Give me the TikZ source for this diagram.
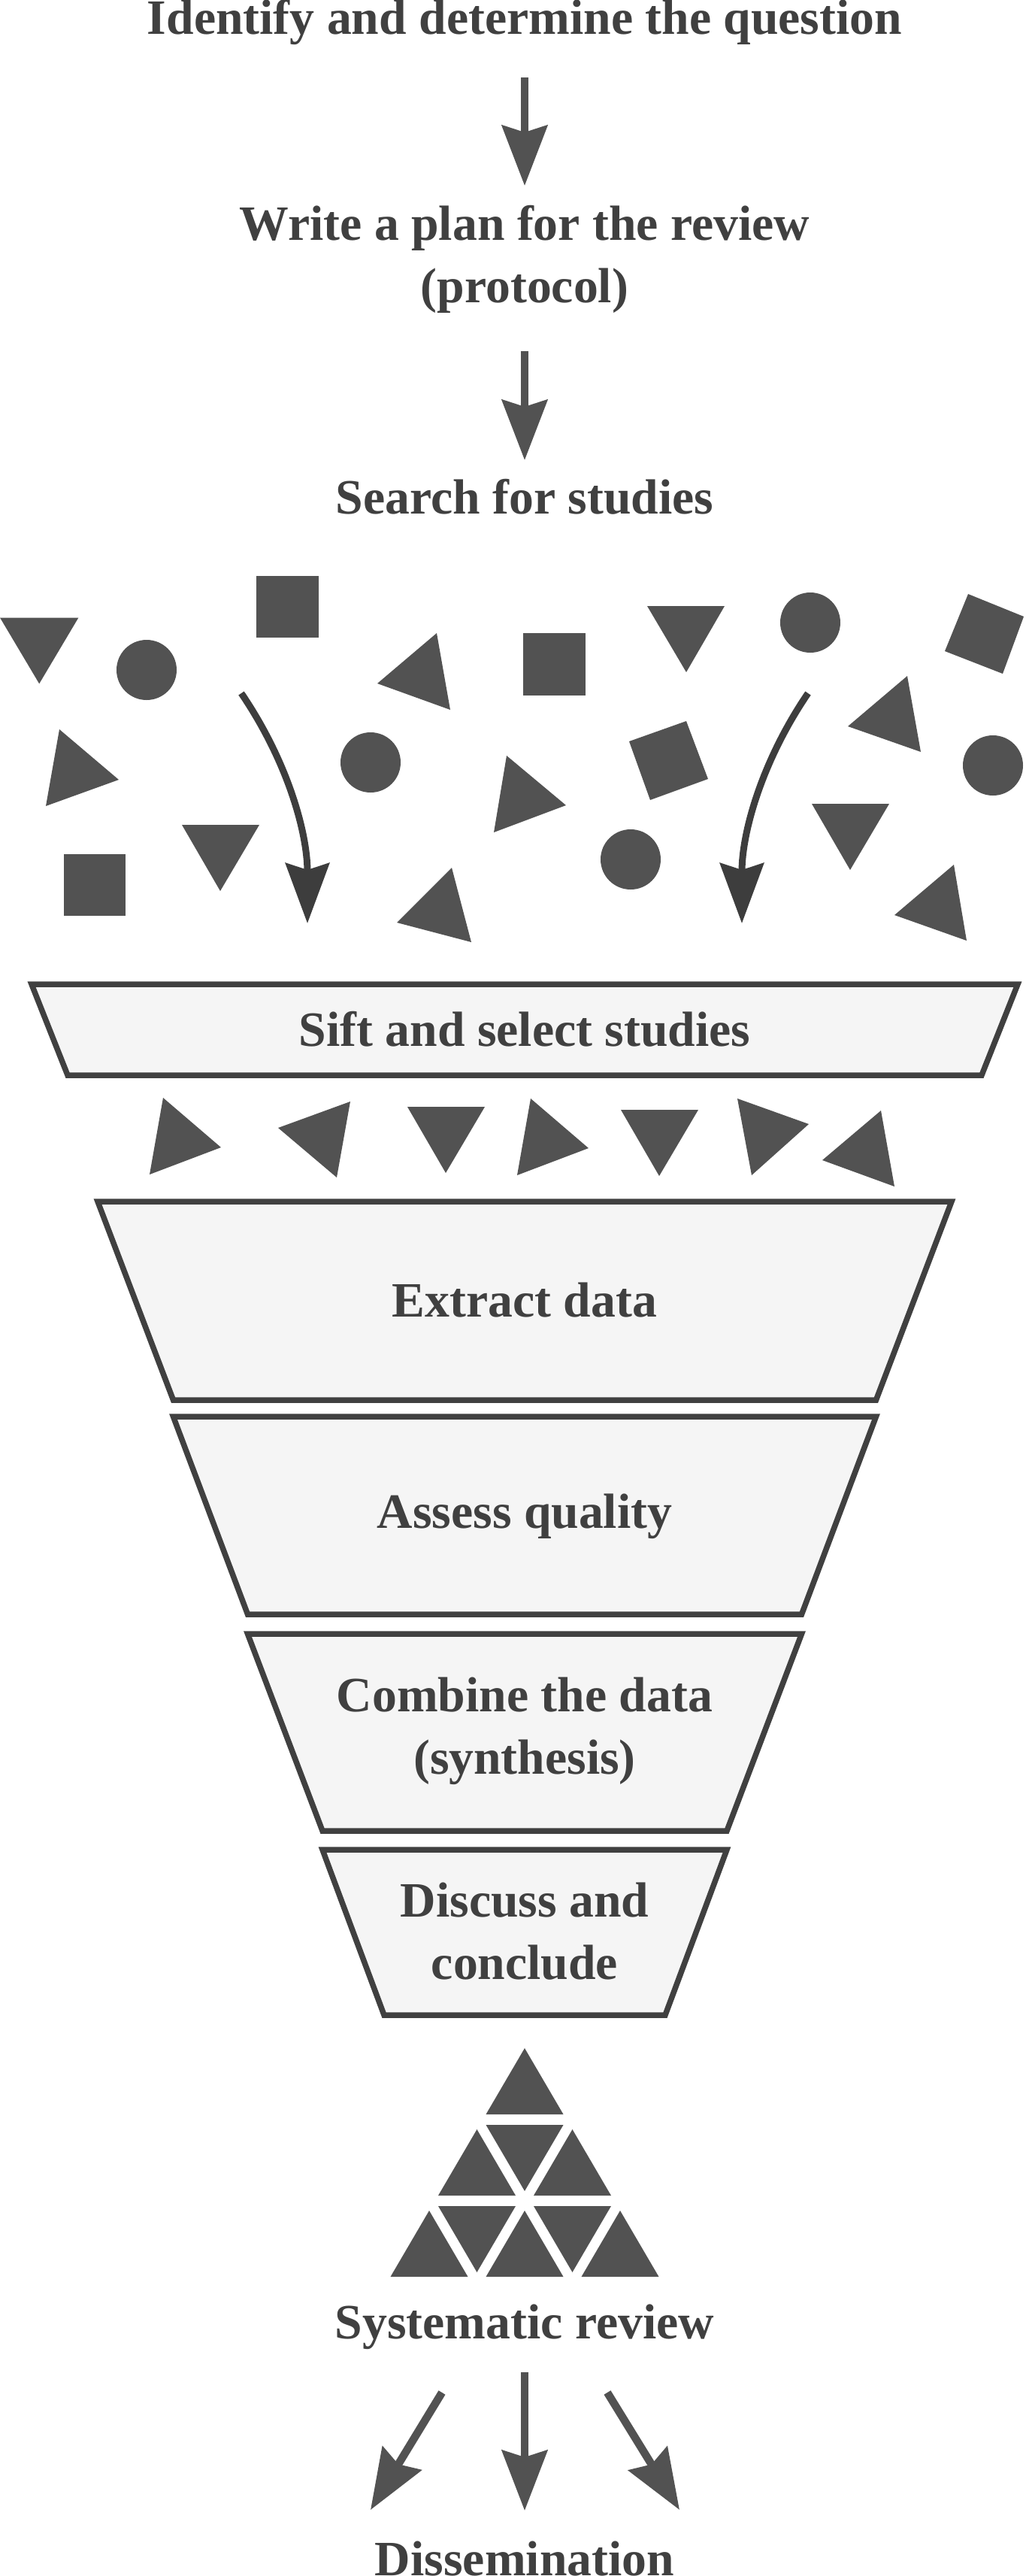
\documentclass[tikz,border=0pt]{standalone}
\usepackage{fontspec}
\setmainfont{Liberation Serif}
\usepackage{tikz}
\usetikzlibrary{arrows.meta}

\definecolor{inkgray}{HTML}{404040}
\definecolor{bitgray}{HTML}{525252}
\definecolor{curvegray}{HTML}{3D3D3D}
\definecolor{stagefill}{HTML}{F5F5F5}

\begin{document}
\begin{tikzpicture}[
	stagetext/.style={inner sep=0pt, text=inkgray, align=center,
		font=\fontsize{18.7pt}{23.6pt}\selectfont\bfseries},
	flowarrow/.style={draw=bitgray, line width=1.05mm,
		-{Stealth[length=8mm, width=6mm, inset=0.9mm]}},
	driftarrow/.style={draw=curvegray, line width=0.9mm,
		-{Stealth[length=8mm, width=5.8mm, inset=0.9mm]}},
	bit/.style={fill=bitgray},
	stage/.style={draw=inkgray, fill=stagefill, line width=0.75mm}
]
	\useasboundingbox (0,0) rectangle (13.64,-34.26);

	% steps before the search (base = last line)
	\node[stagetext, anchor=base] (identify) at (6.98,-0.45) {Identify and determine the question};
	\node[stagetext, anchor=base] (plan) at (6.98,-4.02) {Write a plan for the review\\(protocol)};
	\node[stagetext, anchor=base] (search) at (6.98,-6.83) {Search for studies};

	\draw[flowarrow] ([yshift=-5.8mm]identify.base) -- ([yshift=15.5mm]plan.base);
	\draw[flowarrow] ([yshift=-6.5mm]plan.base) -- ([yshift=7.1mm]search.base);

	% scattered studies
	\fill[bit] (0,-8.215) -- (1.044,-8.215) -- (0.522,-9.093) -- cycle;
	\fill[bit] (1.95,-8.91) circle (0.40);
	\fill[bit] (3.41,-7.66) rectangle (4.24,-8.48);
	\fill[bit] (5.81,-8.42) -- (5.02,-9.09) -- (5.99,-9.44) -- cycle;
	\fill[bit] (6.96,-8.42) rectangle (7.79,-9.25);
	\fill[bit] (8.61,-8.06) -- (9.64,-8.06) -- (9.13,-8.94) -- cycle;
	\fill[bit] (10.78,-8.28) circle (0.40);
	\fill[bit] (12.88,-7.90) -- (13.62,-8.20) -- (13.34,-8.96) -- (12.57,-8.66) -- cycle;
	\fill[bit] (12.07,-8.99) -- (11.28,-9.66) -- (12.25,-10.00) -- cycle;
	\fill[bit] (13.21,-10.18) circle (0.40);
	\fill[bit] (0.79,-9.70) -- (1.58,-10.37) -- (0.61,-10.72) -- cycle;
	\fill[bit] (4.93,-10.14) circle (0.40);
	\fill[bit] (6.74,-10.05) -- (7.53,-10.71) -- (6.57,-11.07) -- cycle;
	\fill[bit] (9.13,-9.59) -- (9.42,-10.36) -- (8.65,-10.64) -- (8.37,-9.86) -- cycle;
	\fill[bit] (0.85,-11.36) rectangle (1.67,-12.18);
	\fill[bit] (2.42,-10.97) -- (3.45,-10.97) -- (2.93,-11.85) -- cycle;
	\fill[bit] (8.39,-11.43) circle (0.40);
	\fill[bit] (10.80,-10.69) -- (11.83,-10.69) -- (11.31,-11.57) -- cycle;
	\fill[bit] (6.01,-11.54) -- (5.28,-12.27) -- (6.27,-12.53) -- cycle;
	\fill[bit] (12.69,-11.50) -- (11.90,-12.17) -- (12.86,-12.51) -- cycle;

	% arrows into the funnel
	\coordinate (dropL) at (3.21,-9.22);
	\coordinate (landL) at (4.09,-12.28);
	\coordinate (dropR) at (10.75,-9.22);
	\coordinate (landR) at (9.87,-12.28);
	\draw[driftarrow] (dropL) .. controls (3.83,-10.13) and (4.09,-11.08) .. (landL);
	\draw[driftarrow] (dropR) .. controls (10.13,-10.13) and (9.87,-11.08) .. (landR);

	% funnel
	\draw[stage] (0.42,-13.09) -- (13.54,-13.09) -- (13.06,-14.30) -- (0.90,-14.30) -- cycle;
	\node[stagetext, anchor=base] (sift) at (6.98,-13.91) {Sift and select studies};

	% selected studies
	\fill[bit] (2.17,-14.60) -- (2.94,-15.26) -- (1.99,-15.62) -- cycle;
	\fill[bit] (4.66,-14.65) -- (3.70,-15.00) -- (4.48,-15.66) -- cycle;
	\fill[bit] (5.42,-14.72) -- (6.45,-14.72) -- (5.93,-15.60) -- cycle;
	\fill[bit] (7.06,-14.61) -- (7.83,-15.27) -- (6.88,-15.63) -- cycle;
	\fill[bit] (8.26,-14.76) -- (9.29,-14.76) -- (8.77,-15.64) -- cycle;
	\fill[bit] (9.81,-14.61) -- (10.76,-14.95) -- (10.00,-15.63) -- cycle;
	\fill[bit] (11.72,-14.77) -- (10.94,-15.43) -- (11.90,-15.78) -- cycle;

	\draw[stage] (1.30,-15.98) -- (12.66,-15.98) -- (11.655,-18.62) -- (2.305,-18.62) -- cycle;
	\node[stagetext, anchor=base] (extract) at (6.98,-17.51) {Extract data};

	\draw[stage] (2.305,-18.84) -- (11.655,-18.84) -- (10.665,-21.47) -- (3.295,-21.47) -- cycle;
	\node[stagetext, anchor=base] (assess) at (6.98,-20.32) {Assess quality};

	\draw[stage] (3.295,-21.73) -- (10.665,-21.73) -- (9.67,-24.35) -- (4.29,-24.35) -- cycle;
	\node[stagetext, anchor=base] (combine) at (6.98,-23.59) {Combine the data\\(synthesis)};

	\draw[stage] (4.29,-24.60) -- (9.67,-24.60) -- (8.85,-26.80) -- (5.11,-26.80) -- cycle;
	\node[stagetext, anchor=base] (discuss) at (6.98,-26.32) {Discuss and\\conclude};

	% pyramid
	\foreach \r in {0,1,2} {
		\foreach \k in {0,...,\r} {
			\fill[bit] ({6.98+(2*\k-\r)*0.635},{-27.24-\r*1.08}) -- ++(0.515,-0.88) -- ++(-1.03,0) -- cycle;
		}
	}
	\foreach \r in {1,2} {
		\foreach \k in {1,...,\r} {
			\fill[bit] ({6.98+(2*\k-\r-1)*0.635},{-28.26-(\r-1)*1.08-0.88}) -- ++(-0.515,0.88) -- ++(1.03,0) -- cycle;
		}
	}

	\node[stagetext, anchor=base] (review) at (6.98,-31.10) {Systematic review};
	\node[stagetext, anchor=base] (dissem) at (6.98,-34.25) {Dissemination};

	\draw[flowarrow] ([yshift=-4.5mm]review.base) -- ([yshift=8.6mm]dissem.base);
	\draw[flowarrow] ([xshift=-11mm, yshift=-7.2mm]review.base) -- ([xshift=-20.5mm, yshift=8.7mm]dissem.base);
	\draw[flowarrow] ([xshift=11mm, yshift=-7.2mm]review.base) -- ([xshift=20.6mm, yshift=8.7mm]dissem.base);

\end{tikzpicture}
\end{document}
